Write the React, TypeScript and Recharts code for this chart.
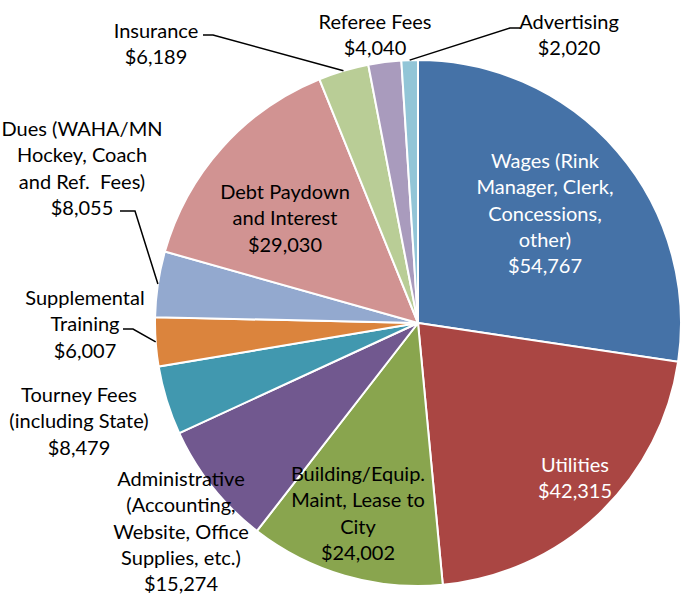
import { PieChart, Pie, Cell } from "recharts";

const categories = [
  "Wages",
  "Utilities",
  "Building/Equip.",
  "Administrative",
  "Tourney Fees",
  "Supplemental Training",
  "Dues",
  "Debt Paydown",
  "Insurance",
  "Referee Fees",
  "Advertising",
];

const amounts = [54767, 42315, 24002, 15274, 8479, 6007, 8055, 29030, 6189, 4040, 2020];

const labelTexts = [
  ["Wages (Rink", "Manager, Clerk,", "Concessions,", "other)", "$54,767"],
  ["Utilities", "$42,315"],
  ["Building/Equip.", "Maint, Lease to", "City", "$24,002"],
  ["Administrative", "(Accounting,", "Website, Office", "Supplies, etc.)", "$15,274"],
  ["Tourney Fees", "(including State)", "$8,479"],
  ["Supplemental", "Training", "$6,007"],
  ["Dues (WAHA/MN", "Hockey, Coach", "and Ref.\u00a0 Fees)", "$8,055"],
  ["Debt Paydown", "and Interest", "$29,030"],
  ["Insurance", "$6,189"],
  ["Referee Fees", "$4,040"],
  ["Advertising", "$2,020"],
];

const colors = [
  "#4572A7",
  "#AA4643",
  "#89A54E",
  "#71588F",
  "#4198AF",
  "#DB843D",
  "#93A9CF",
  "#D19392",
  "#B9CD96",
  "#A99BBD",
  "#92C5D7",
];

const textColors = ["#fff", "#fff", "#000", "#000", "#000", "#000", "#000", "#000", "#000", "#000", "#000"];

// label placement: text centre x, first line y, optional leader line start + elbow
const labelLayout: { x: number; y: number; line?: [number, number, number, number] }[] = [
  { x: 545, y: 160 },
  { x: 575, y: 464 },
  { x: 358, y: 473 },
  { x: 181, y: 478 },
  { x: 79, y: 394 },
  { x: 85, y: 297, line: [123, 329, 133, 329] },
  { x: 82, y: 128, line: [120, 211, 135, 211] },
  { x: 285, y: 191 },
  { x: 156, y: 30, line: [203, 35, 213, 35] },
  { x: 375, y: 21 },
  { x: 569, y: 21, line: [520, 28, 510, 28] },
];

const data = categories.map((name, i) => ({ name, value: amounts[i] }));

const RAD = Math.PI / 180;

const renderLabel = (props: any) => {
  const { cx, cy, midAngle, outerRadius, index } = props;
  const layout = labelLayout[index];
  const lines = labelTexts[index];
  let leader = null;
  if (layout.line) {
    const ex = cx + outerRadius * Math.cos(-midAngle * RAD);
    const ey = cy + outerRadius * Math.sin(-midAngle * RAD);
    const [x1, y1, x2, y2] = layout.line;
    leader = (
      <polyline
        points={`${x1},${y1} ${x2},${y2} ${ex},${ey}`}
        fill="none"
        stroke="#000"
        strokeWidth={1.5}
      />
    );
  }
  return (
    <g key={`lbl-${index}`}>
      {leader}
      <text
        x={layout.x}
        y={layout.y}
        textAnchor="middle"
        fill={textColors[index]}
        fontSize={20}
        fontFamily="Lato, 'Noto Sans', sans-serif"
      >
        {lines.map((t, j) => (
          <tspan key={j} x={layout.x} y={layout.y + j * 26.3} dominantBaseline="central">
            {t}
          </tspan>
        ))}
      </text>
    </g>
  );
};

export default function App() {
  return (
    <div style={{ position: "absolute", left: 0, top: 0, width: 681, height: 595, background: "#fff" }}>
      <PieChart width={681} height={595} margin={{ top: 0, right: 0, bottom: 0, left: 0 }}>
        <Pie
          data={data}
          dataKey="value"
          nameKey="name"
          cx={418}
          cy={323}
          outerRadius={263}
          startAngle={90}
          endAngle={-270}
          stroke="#fff"
          strokeWidth={2}
          label={renderLabel}
          labelLine={false}
          isAnimationActive={false}
        >
          {data.map((d, i) => (
            <Cell key={d.name} fill={colors[i]} />
          ))}
        </Pie>
      </PieChart>
    </div>
  );
}
